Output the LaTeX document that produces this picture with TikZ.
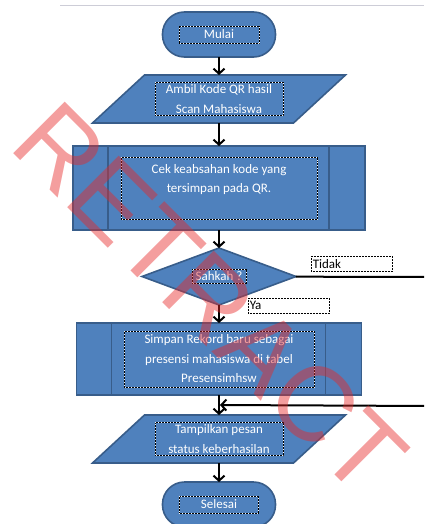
\documentclass[tikz,border=0pt]{standalone}
\usepackage{fontspec}
\setmainfont{Carlito}
\newfontfamily\wmfont{Liberation Sans}
\usetikzlibrary{arrows.meta,positioning,calc,shapes.geometric}
\definecolor{isi}{RGB}{79,129,189}
\definecolor{tepi}{RGB}{56,93,138}
\definecolor{merah}{RGB}{230,40,40}
\definecolor{abu}{RGB}{205,205,215}

\begin{document}
\begin{tikzpicture}[x=1pt,y=-1pt,>={Straight Barb[length=5pt,width=11pt]},every node/.style={font=\fontsize{13}{19.5}\selectfont},shp/.style={draw=tepi,fill=isi,line width=1.6pt,inner sep=0pt,outer sep=0pt},term/.style={shp,rounded corners=22pt,minimum width=113pt,minimum height=45pt},io/.style={inner sep=0pt,outer sep=0pt,minimum width=253pt,minimum height=48pt},proc/.style={shp,rectangle},keputusan/.style={shp,diamond,minimum width=154pt,minimum height=57pt},sisi/.style={draw=tepi,line width=1.6pt},tbox/.style={draw=black,densely dotted,line width=0.5pt,preaction={draw=white,solid},text=white,align=center,inner sep=0pt},lbl/.style={tbox,fill=white,text=black,align=left,text width=78pt,minimum height=15pt,inner sep=1.5pt},panah/.style={->,line width=2pt},wm/.style={font=\wmfont\fontsize{106}{106}\selectfont,text=merah,text opacity=0.45}]
\useasboundingbox (0,0) rectangle (424,524);
\clip (0,0) rectangle (424,524);
\draw[abu,line width=1pt] (60,6) -- (424,6);
\node[term] (mulai) at (219,34.5) {};
\node[io,below=18pt of mulai] (ambil) {};
\node[proc,minimum width=292pt,minimum height=84pt,below=23pt of ambil] (cek) {};
\node[keputusan,below=18pt of cek] (sah) {};
\node[proc,minimum width=285pt,minimum height=72pt,below=18pt of sah] (simpan) {};
\node[io,below=20pt of simpan] (tampil) {};
\node[term,below=19pt of tampil] (selesai) {};
\foreach \n in {ambil,tampil}
  \draw[shp] (\n.south west) -- ([xshift=-52pt]\n.south east) -- (\n.north east) -- ([xshift=52pt]\n.north west) -- cycle;
\foreach \n in {cek,simpan}{
  \draw[sisi] ([xshift=35pt]\n.north west) -- ([xshift=35pt]\n.south west);
  \draw[sisi] ([xshift=-36pt]\n.north east) -- ([xshift=-36pt]\n.south east);
}
\node[tbox,minimum width=80pt,minimum height=17pt] (tmulai) at (mulai) {Mulai};
\node[tbox,minimum width=128pt,minimum height=33pt] (tambil) at (ambil) {Ambil Kode QR hasil\\Scan Mahasiswa};
\node[tbox,minimum width=196pt,minimum height=62pt] (tcek) at (cek) {Cek keabsahan kode yang\\tersimpan pada QR.\\\mbox{}};
\node[tbox,minimum width=54pt,minimum height=14pt] (tsah) at (sah) {Sahkah ?};
\node[tbox,minimum width=190pt,minimum height=56pt] (tsimpan) at (simpan) {Simpan Rekord baru sebagai\\presensi mahasiswa di tabel\\Presensimhsw};
\node[tbox,minimum width=128pt,minimum height=33pt] (ttampil) at (tampil) {Tampilkan pesan\\status keberhasilan};
\node[tbox,minimum width=79pt,minimum height=17pt] (tselesai) at (selesai) {Selesai};
\node[lbl,anchor=north west] (tidak) at (311,256) {Tidak};
\node[lbl,anchor=north west] (ya) at (248,298) {Ya};
\coordinate (tdk) at (430,277);
\coordinate (kembali) at (430,406);
\coordinate (gabung) at ($(simpan.south)!0.5!(tampil.north)$);
\draw[panah] (mulai) -- (ambil);
\draw[panah] (ambil) -- (cek);
\draw[panah] (cek) -- (sah);
\draw[panah] (sah) -- (simpan);
\draw[panah] (simpan) -- (tampil);
\draw[panah] (tampil) -- (selesai);
\draw[line width=2pt] (sah) -- (tdk);
\draw[panah,shorten >=1pt] (kembali) -- (gabung);
\node[wm,anchor=base,rotate=-45] (stempel) at (184,324) {RETRACT};
\end{tikzpicture}
\end{document}
